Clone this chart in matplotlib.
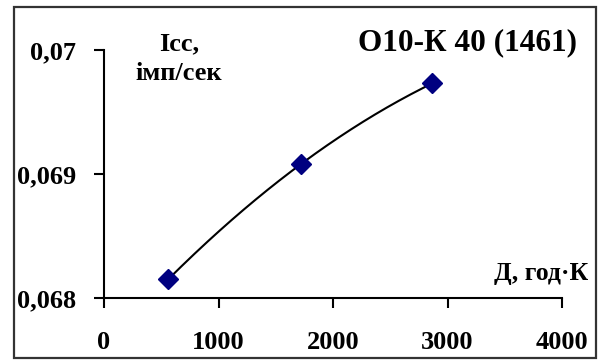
import numpy as np
import matplotlib.pyplot as plt
from matplotlib.patches import Rectangle
from matplotlib.ticker import FuncFormatter

# dose (year*K) and count rate (imp/sec)
dose = np.array([560, 1720, 2865])
rate = np.array([0.06815, 0.06908, 0.06973])
xticks = [0, 1000, 2000, 3000, 4000]
yticks = [0.068, 0.069, 0.070]

plt.rcParams['font.family'] = ['Liberation Serif', 'DejaVu Serif']
plt.rcParams['font.weight'] = 'bold'

fig = plt.figure(figsize=(6.01, 3.62), dpi=100)
ax = fig.add_axes([104 / 601, 1 - 298 / 362, 458 / 601, 248 / 362])

# frame around the whole chart
fig.patches.append(Rectangle((14 / 601, 1 - 358 / 362), 582 / 601, 351 / 362,
                             transform=fig.transFigure, fill=False,
                             edgecolor='#333333', linewidth=1.6))

# smooth curve through the measured points
p = np.polyfit(dose, rate, deg=2)
z = np.linspace(dose[0], dose[-1], 200)
ax.plot(z, np.polyval(p, z), color='black', linewidth=1.5)
ax.plot(dose, rate, linestyle='', marker='D', markersize=10.5,
        markerfacecolor='#000080', markeredgecolor='#000080')

ax.set_xlim(0, 4000)
ax.set_ylim(0.068, 0.070)
ax.set_xticks(xticks)
ax.set_yticks(yticks)
ax.yaxis.set_major_formatter(FuncFormatter(lambda v, pos: ('%g' % round(v, 4)).replace('.', ',')))
ax.tick_params(labelsize=19, length=7, width=1.5, direction='out')
ax.tick_params(axis='x', pad=17)
ax.tick_params(axis='y', pad=13)
for lab in ax.get_xticklabels() + ax.get_yticklabels():
    lab.set_fontweight('bold')
for s in ['top', 'right']:
    ax.spines[s].set_visible(False)
for s in ['left', 'bottom']:
    ax.spines[s].set_linewidth(1.5)

fig.text(179 / 601, 1 - 50 / 362, 'Icc,', ha='center', va='baseline', fontsize=19, fontweight='bold')
fig.text(179 / 601, 1 - 80 / 362, 'імп/сек', ha='center', va='baseline', fontsize=19, fontweight='bold')
fig.text(577 / 601, 1 - 50 / 362, 'O10-К 40 (1461)', ha='right', va='baseline', fontsize=22.5, fontweight='bold')
fig.text(588 / 601, 1 - 280 / 362, 'Д, год·К', ha='right', va='baseline', fontsize=18.5, fontweight='bold')

plt.savefig('out.png', dpi=100)
